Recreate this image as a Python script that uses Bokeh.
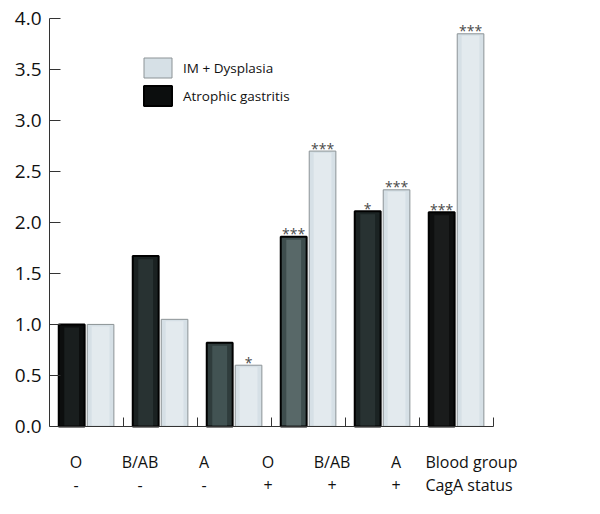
from bokeh.plotting import figure
from bokeh.models import (Range1d, FixedTicker, Legend, LegendItem,
                          ColumnDataSource, PrintfTickFormatter, CustomJSTickFormatter)
from bokeh.embed import file_html
from bokeh.resources import INLINE
from bokeh.core.properties import value

# ---- data ----
blood_groups = ["O", "B/AB", "A", "O", "B/AB", "A"]
caga_status = ["-", "-", "-", "+", "+", "+"]
atrophic = [1.0, 1.67, 0.82, 1.86, 2.11, 2.10]
im_dysplasia = [1.0, 1.05, 0.60, 2.70, 2.32, 3.85]
atrophic_sig = ["", "", "", "***", "*", "***"]
im_sig = ["", "", "*", "***", "***", "***"]
y_ticks = [0.0, 0.5, 1.0, 1.5, 2.0, 2.5, 3.0, 3.5, 4.0]
row_titles = ["Blood group", "CagA status"]

FONT = "Open Sans"
dark_fills = ["#0c0e0e", "#1a2121", "#2f3c3c", "#3e4d4d", "#1b2323", "#0e0f0f"]
dark_inner = ["#1b2020", "#2a3434", "#455555", "#5b6b6b", "#2a3434", "#1c1e1e"]

n = len(blood_groups)
groups = list(range(n))
dark_x = [g + 0.30 for g in groups]
light_x = [g + 0.69 for g in groups]

p = figure(width=584, height=498, x_range=Range1d(0, 7.23), y_range=Range1d(-0.707, 4.0),
           output_backend="svg", toolbar_location=None,
           min_border_left=49, min_border_top=18, min_border_right=0, min_border_bottom=0)
p.outline_line_color = None
p.xgrid.visible = False
p.ygrid.visible = False
p.background_fill_color = "white"
p.border_fill_color = "white"

dark_src = ColumnDataSource(dict(x=dark_x, top=atrophic, color=dark_fills, inner=dark_inner,
                                 itop=[v - 0.03 for v in atrophic]))
light_src = ColumnDataSource(dict(x=light_x, top=im_dysplasia,
                                  itop=[v - 0.02 for v in im_dysplasia]))

r_dark = p.vbar(x="x", top="top", bottom=0, width=0.35, source=dark_src,
                fill_color="color", line_color="#000000", line_width=2)
p.vbar(x="x", top="itop", bottom=0.01, width=0.2, source=dark_src,
       fill_color="inner", line_color=None, fill_alpha=0.9)
r_light = p.vbar(x="x", top="top", bottom=0, width=0.36, source=light_src,
                 fill_color="#d6e0e6", line_color="#8c9396", line_width=1)
p.vbar(x="x", top="itop", bottom=0.01, width=0.24, source=light_src,
       fill_color="#e3eaee", line_color=None)

# significance stars
sx, sy, st = [], [], []
for i in groups:
    if atrophic_sig[i]:
        sx.append(dark_x[i]); sy.append(atrophic[i]); st.append(atrophic_sig[i])
    if im_sig[i]:
        sx.append(light_x[i]); sy.append(im_dysplasia[i]); st.append(im_sig[i])
p.text(x=sx, y=sy, text=st, text_align="center", text_baseline="alphabetic",
       y_offset=-3, text_font=value(FONT), text_font_size="14px", text_color="#4a4a4a")

# y axis
yax = p.yaxis[0]
yax.ticker = FixedTicker(ticks=y_ticks)
yax.formatter = PrintfTickFormatter(format="%.1f")
yax.bounds = (0, 4.0)
yax.major_tick_in = 11
yax.major_tick_out = 0
yax.minor_tick_line_color = None
yax.major_label_standoff = 8
yax.major_label_text_font = FONT
yax.major_label_text_font_size = "19px"
yax.major_label_text_color = "#111111"
yax.axis_line_color = "#333333"
yax.major_tick_line_color = "#333333"

# x axis, fixed at y = 0
xax = p.xaxis[0]
xax.fixed_location = 0
xax.bounds = (0, n)
xax.ticker = FixedTicker(ticks=[g + 1 for g in groups])
xax.formatter = CustomJSTickFormatter(code="return ''")
xax.major_tick_in = 9
xax.major_tick_out = 0
xax.minor_tick_line_color = None
xax.axis_line_color = "#333333"
xax.major_tick_line_color = "#333333"

# legend
legend = Legend(items=[LegendItem(label="IM + Dysplasia", renderers=[r_light]),
                       LegendItem(label="Atrophic gastritis", renderers=[r_dark])],
                location=(91, 390), glyph_width=35, glyph_height=25, spacing=3,
                padding=0, margin=0, border_line_color=None, background_fill_alpha=0,
                label_standoff=8, label_text_font=FONT, label_text_font_size="13.5px",
                label_text_color="#111111")
p.add_layout(legend, "center")

# category rows below the axis
label_x0 = 0.358
label_step = 0.865
row_y = [-0.353, -0.579]
lx, ly, lt = [], [], []
for i in groups:
    for row, txt in enumerate([blood_groups[i], caga_status[i]]):
        lx.append(label_x0 + label_step * i); ly.append(row_y[row]); lt.append(txt)
p.text(x=lx, y=ly, text=lt, text_align="center", text_baseline="middle",
       text_font=value(FONT), text_font_size="16px", text_color="#111111")
p.text(x=[5.08, 5.08], y=row_y, text=row_titles, text_align="left",
       text_baseline="middle", text_font=value(FONT), text_font_size="16px",
       text_color="#111111")

open("out.html", "w").write(file_html(p, INLINE))
